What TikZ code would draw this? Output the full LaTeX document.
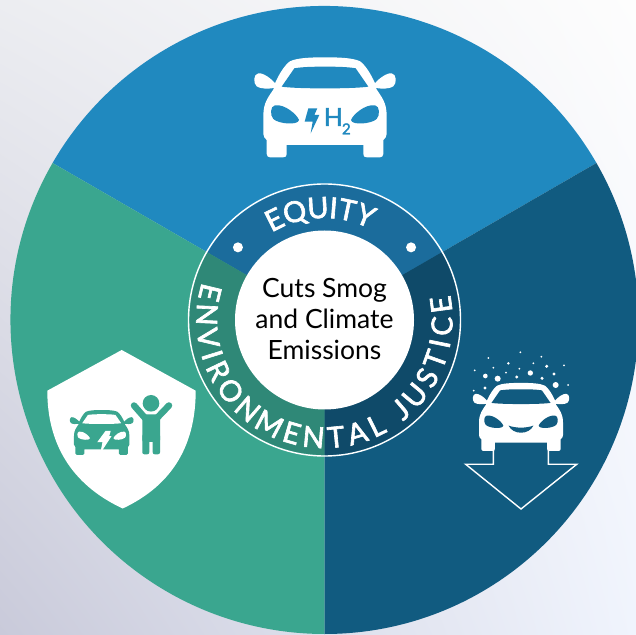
\documentclass[tikz,border=0pt]{standalone}
\usepackage{fontspec}
\setmainfont{Lato}
\newfontfamily\ringfont[FakeBold=2.2]{Lato}
\newfontfamily\iconfont[FakeBold=2]{Lato}
\usetikzlibrary{shadings}
\definecolor{cblue}{HTML}{2089BF}
\definecolor{cdark}{HTML}{115B80}
\definecolor{cgreen}{HTML}{3AA68F}
\definecolor{rblue}{HTML}{1B6C9C}
\definecolor{rdark}{HTML}{0F4A69}
\definecolor{rgreen}{HTML}{2F8877}
\definecolor{bgtl}{HTML}{ECEDF1}
\definecolor{bgbl}{HTML}{C9CADA}
\definecolor{bgbr}{HTML}{F0F4FD}
\definecolor{bgtr}{HTML}{FDFDFD}
% car drawn in units: x from centre, y up from wheel bottoms
\newcommand{\carbody}[1]{%
  \fill[#1] (0,300) .. controls (45,300) and (85,298) .. (105,288)
    .. controls (120,278) and (138,250) .. (150,222)
    .. controls (160,235) and (185,254) .. (200,252)
    .. controls (215,250) and (216,222) .. (205,213)
    .. controls (195,205) and (170,205) .. (152,208)
    .. controls (170,180) and (185,165) .. (185,125)
    -- (185,70) .. controls (185,62) and (180,55) .. (175,52)
    -- (175,10) .. controls (175,3) and (170,0) .. (165,0)
    -- (125,0) .. controls (118,0) and (115,3) .. (115,10) -- (115,37)
    -- (-115,37) -- (-115,10) .. controls (-115,3) and (-118,0) .. (-125,0)
    -- (-165,0) .. controls (-170,0) and (-175,3) .. (-175,10) -- (-175,52)
    .. controls (-180,55) and (-185,62) .. (-185,70) -- (-185,125)
    .. controls (-185,165) and (-170,180) .. (-152,208)
    .. controls (-170,205) and (-195,205) .. (-205,213)
    .. controls (-216,222) and (-215,250) .. (-200,252)
    .. controls (-185,254) and (-160,235) .. (-150,222)
    .. controls (-138,250) and (-120,278) .. (-105,288)
    .. controls (-85,298) and (-45,300) .. (0,300) -- cycle;}
\newcommand{\carglass}[1]{%
  \fill[#1] (0,272) .. controls (35,272) and (70,271) .. (92,267)
    -- (130,212) .. controls (90,205) and (-90,205) .. (-130,212)
    -- (-92,267) .. controls (-70,271) and (-35,272) .. (0,272) -- cycle;
  \foreach \m in {1,-1}{
    \begin{scope}[xscale=\m]
    \fill[#1] (78,112) .. controls (84,128) and (120,160) .. (150,156)
      .. controls (165,154) and (165,125) .. (155,115)
      .. controls (140,100) and (80,95) .. (78,112) -- cycle;
    \end{scope}}}
\newcommand{\boltshape}[1]{%
  \fill[#1] (-50,147) -- (-23,147) -- (-32,127) -- (-17,127) -- (-43,72) -- (-37,107) -- (-61,107) -- cycle;}
\tikzset{ringletter/.style={text=white,anchor=base,inner sep=0pt,font=\fontsize{29}{29}\ringfont}}
\gdef\ringpos{0}
\begin{document}
\begin{tikzpicture}[x=1pt,y=1pt]
\useasboundingbox (0,0) rectangle (636,634);
% background
\shade[upper left=bgtl,upper right=bgtr,lower left=bgbl,lower right=bgbr] (0,0) rectangle (636,634);
\coordinate (c) at (324.5,314);
% sectors
\fill[cblue] (c) -- ++(30:314) arc[start angle=30,end angle=150,radius=314] -- cycle;
\fill[cgreen] (c) -- ++(150:314) arc[start angle=150,end angle=270,radius=314] -- cycle;
\fill[cdark] (c) -- ++(270:314) arc[start angle=270,end angle=390,radius=314] -- cycle;
% ring
\fill[rblue] (c) -- ++(30:135) arc[start angle=30,end angle=150,radius=135] -- cycle;
\fill[rgreen] (c) -- ++(150:135) arc[start angle=150,end angle=270,radius=135] -- cycle;
\fill[rdark] (c) -- ++(270:135) arc[start angle=270,end angle=390,radius=135] -- cycle;
\draw[white,line width=1.4pt] (c) circle[radius=136];
\node[circle,fill=white,minimum size=179pt,inner sep=0pt] (hub) at (c) {};
\node[align=center,text=black,font=\fontsize{26.5}{31}\selectfont] (label) at (324.5,314.5) {Cuts Smog\\and Climate\\Emissions};
% curved labels, letter by letter
\gdef\ringpos{0}
\foreach \ch/\w in {E/.58,Q/.80,U/.71,I/.27,T/.59,Y/.62}{
  \pgfmathsetmacro\a{121-15.4*(\ringpos+\w/2)}
  \pgfmathsetmacro\r{\a-90}
  \node[ringletter,rotate=\r] at ([shift={(\a:102)}]c) {\ch};
  \pgfmathsetmacro\n{\ringpos+\w+.03}
  \global\let\ringpos\n
}
\gdef\ringpos{0}
\foreach \ch/\w/\g in {E/.58/0,N/.74/0,V/.68/0,I/.27/0,R/.62/0,O/.80/0,N/.74/0,M/.90/0,E/.58/0,N/.74/0,T/.59/0,A/.68/0,L/.51/.48,J/.42/0,U/.71/0,S/.55/0,T/.59/0,I/.27/0,C/.68/0,E/.58/0}{
  \pgfmathsetmacro\a{163+12.18*(\ringpos+\w/2)}
  \pgfmathsetmacro\r{\a+90}
  \node[ringletter,rotate=\r] at ([shift={(\a:128)}]c) {\ch};
  \pgfmathsetmacro\n{\ringpos+\w+.23+\g}
  \global\let\ringpos\n
}
\fill[white] ([shift={(140:113)}]c) circle[radius=5];
\fill[white] ([shift={(40:113)}]c) circle[radius=5];
% top car
\begin{scope}[shift={(325,476.7)},x=0.3333pt,y=0.3333pt]
  \carbody{white}
  \carglass{cblue}
  \boltshape{cblue}
  \node[text=cblue,anchor=base,font=\fontsize{25}{25}\iconfont,inner sep=0pt] (hh) at (25,94) {H};
  \node[text=cblue,anchor=base,font=\fontsize{15}{15}\iconfont,inner sep=0pt] (two) at (64,69) {2};
\end{scope}
% shield
\fill[white] (121.7,284) -- (195.7,243.3)
   .. controls (195.7,192) and (175,150) .. (122.7,125.5)
   .. controls (70,150) and (47.3,192) .. (47.3,243.3) -- cycle;
\begin{scope}[shift={(101.7,179)},x=0.15pt,y=0.15pt]
  \carbody{cgreen}
  \carglass{white}
  \fill[white] (25,160) -- (60,160) -- (50,125) -- (65,125) -- (-10,10) -- (5,85) -- (-30,85) -- cycle;
\end{scope}
% person
\fill[cgreen] (151,230.7) circle[radius=8.3];
\draw[cgreen,line width=6.5pt,line cap=round] (134,228.5) -- (145,216);
\draw[cgreen,line width=6.5pt,line cap=round] (169,228.5) -- (157,216);
\fill[cgreen,rounded corners=2pt] (142.3,219.5) rectangle (160,192);
\fill[cgreen,rounded corners=2pt] (142.3,200) rectangle (149.3,179.7);
\fill[cgreen,rounded corners=2pt] (152.7,200) rectangle (160,179.7);
% arrow below third car
\draw[white,line width=1.4pt,line join=miter] (493.3,195) -- (493.3,169.7) -- (465.7,169.7) -- (521,125) -- (576.7,169.7) -- (548.3,169.7) -- (548.3,195);
% third car
\begin{scope}[shift={(521,183)},x=0.227pt,y=0.227pt]
  \carbody{white}
  \carglass{cdark}
  \fill[cdark] (-55,112) .. controls (-25,100) and (25,100) .. (55,112)
     .. controls (35,70) and (-35,70) .. (-55,112) -- cycle;
\end{scope}
% particles
\foreach \px/\py/\pr in {211/22/3,115/39/3,274/35/3,175/55/4,250/55/3,130/68/3,290/64/5,342/61/3,74/76/3,208/71/3,168/83/3,241/84/8,312/87/5,106/93/7,143/101/9,200/96/5,276/100/5,317/120/9,354/120/3,71/137/3,105/129/5}{
  \fill[white] ({450+\px/3},{289-\py/3}) circle[radius=\pr/3];
}
\end{tikzpicture}
\end{document}
